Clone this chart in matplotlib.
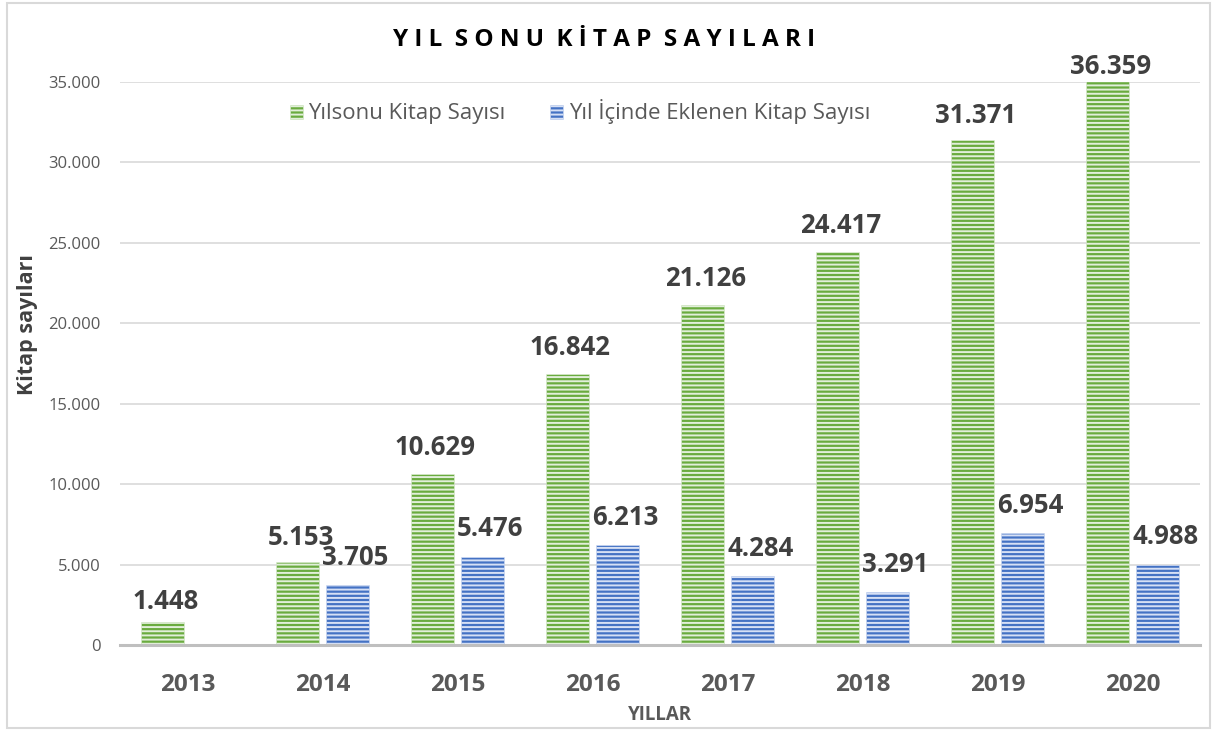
import matplotlib
matplotlib.use("Agg")
from matplotlib import pyplot as plt
from matplotlib.patches import Patch, Rectangle
from matplotlib.ticker import FuncFormatter
import numpy as np

# data
years = ["2013", "2014", "2015", "2016", "2017", "2018", "2019", "2020"]
yilsonu = [1448, 5153, 10629, 16842, 21126, 24417, 31371, 36359]
eklenen = [None, 3705, 5476, 6213, 4284, 3291, 6954, 4988]

def fmt(v):
    return f"{v:,}".replace(",", ".")

plt.rcParams['font.family'] = ['Open Sans', 'DejaVu Sans']
plt.rcParams['hatch.linewidth'] = 1.4

GREEN, GREEN_L = "#6aab3f", "#e2efda"
BLUE, BLUE_L = "#4472c4", "#d6e0f5"
ymax = 35000

fig = plt.figure(figsize=(12.17, 7.31), dpi=100)
ax = fig.add_axes([120/1217, 1-645/731, 1080/1217, 563/731])

x = np.arange(len(years))
w = 0.32
off = 0.185

ax.bar(x - off, yilsonu, w, color=GREEN, edgecolor=GREEN_L, linewidth=0.4, hatch='----', zorder=3)
bx = [xi for xi, v in zip(x, eklenen) if v is not None]
bv = [v for v in eklenen if v is not None]
ax.bar(np.array(bx) + off, bv, w, color=BLUE, edgecolor=BLUE_L, linewidth=0.4, hatch='----', zorder=3)

# labels (offsets in pixels)
green_dy = [20, 25, 27, 27, 27, 27, 25, 15]
for xi, v, dy in zip(x, yilsonu, green_dy):
    ax.annotate(fmt(v), (xi - off, min(v, ymax)), xytext=(3, dy), textcoords='offset pixels',
                ha='center', va='center', fontsize=18.5, fontweight='bold', color='#404040',
                annotation_clip=False)
for xi, v in zip(bx, bv):
    ax.annotate(fmt(v), (xi + off, v), xytext=(8, 28), textcoords='offset pixels',
                ha='center', va='center', fontsize=18.5, fontweight='bold', color='#404040',
                annotation_clip=False)

ax.set_xlim(-0.5, len(years) - 0.5)
ax.set_ylim(0, ymax)
ax.set_yticks(range(0, ymax + 1, 5000))
ax.yaxis.set_major_formatter(FuncFormatter(lambda v, p: fmt(int(v))))
ax.set_xticks(x)
ax.set_xticklabels(years, fontsize=17.5, fontweight='bold', color='#595959')
ax.tick_params(axis='y', length=0, labelsize=12, labelcolor='#595959', pad=14)
ax.tick_params(axis='x', length=0, pad=20)
ax.grid(axis='y', color='#d9d9d9', linewidth=1.2, zorder=0)
for s in ['left', 'right', 'top']:
    ax.spines[s].set_visible(False)
ax.spines['bottom'].set_color('#bfbfbf')
ax.spines['bottom'].set_linewidth(2.2)
ax.spines['bottom'].set_zorder(4)

ax.set_ylabel("Kitap sayıları", fontsize=15.5, fontweight='bold', color='#404040')
ax.yaxis.set_label_coords(-82/1080, 0.57)
fig.text(660/1217, 1-715/731, "YILLAR", ha='center', va='center', fontsize=13.5,
         fontweight='bold', color='#595959')

fig.text(604/1217, 1-40/731, "Y I L  S O N U  K İ T A P  S A Y I L A R I", ha='center', va='center',
         fontsize=17.5, fontweight='bold', color='black')

handles = [Patch(facecolor=GREEN, edgecolor=GREEN_L, hatch='----', linewidth=0.4),
           Patch(facecolor=BLUE, edgecolor=BLUE_L, hatch='----', linewidth=0.4)]
fig.legend(handles, ["Yılsonu Kitap Sayısı", "Yıl İçinde Eklenen Kitap Sayısı"],
           loc='center', bbox_to_anchor=(580/1217, 1-112/731), ncol=2, frameon=False,
           fontsize=16, labelcolor='#595959', handlelength=0.6, handleheight=0.6,
           handletextpad=0.25, columnspacing=2.0)

fig.patches.append(Rectangle((7/1217, 3/731), 1203/1217, 725/731, transform=fig.transFigure,
                             fill=False, edgecolor='#d9d9d9', linewidth=1.5))

fig.savefig("out.png", dpi=100)
